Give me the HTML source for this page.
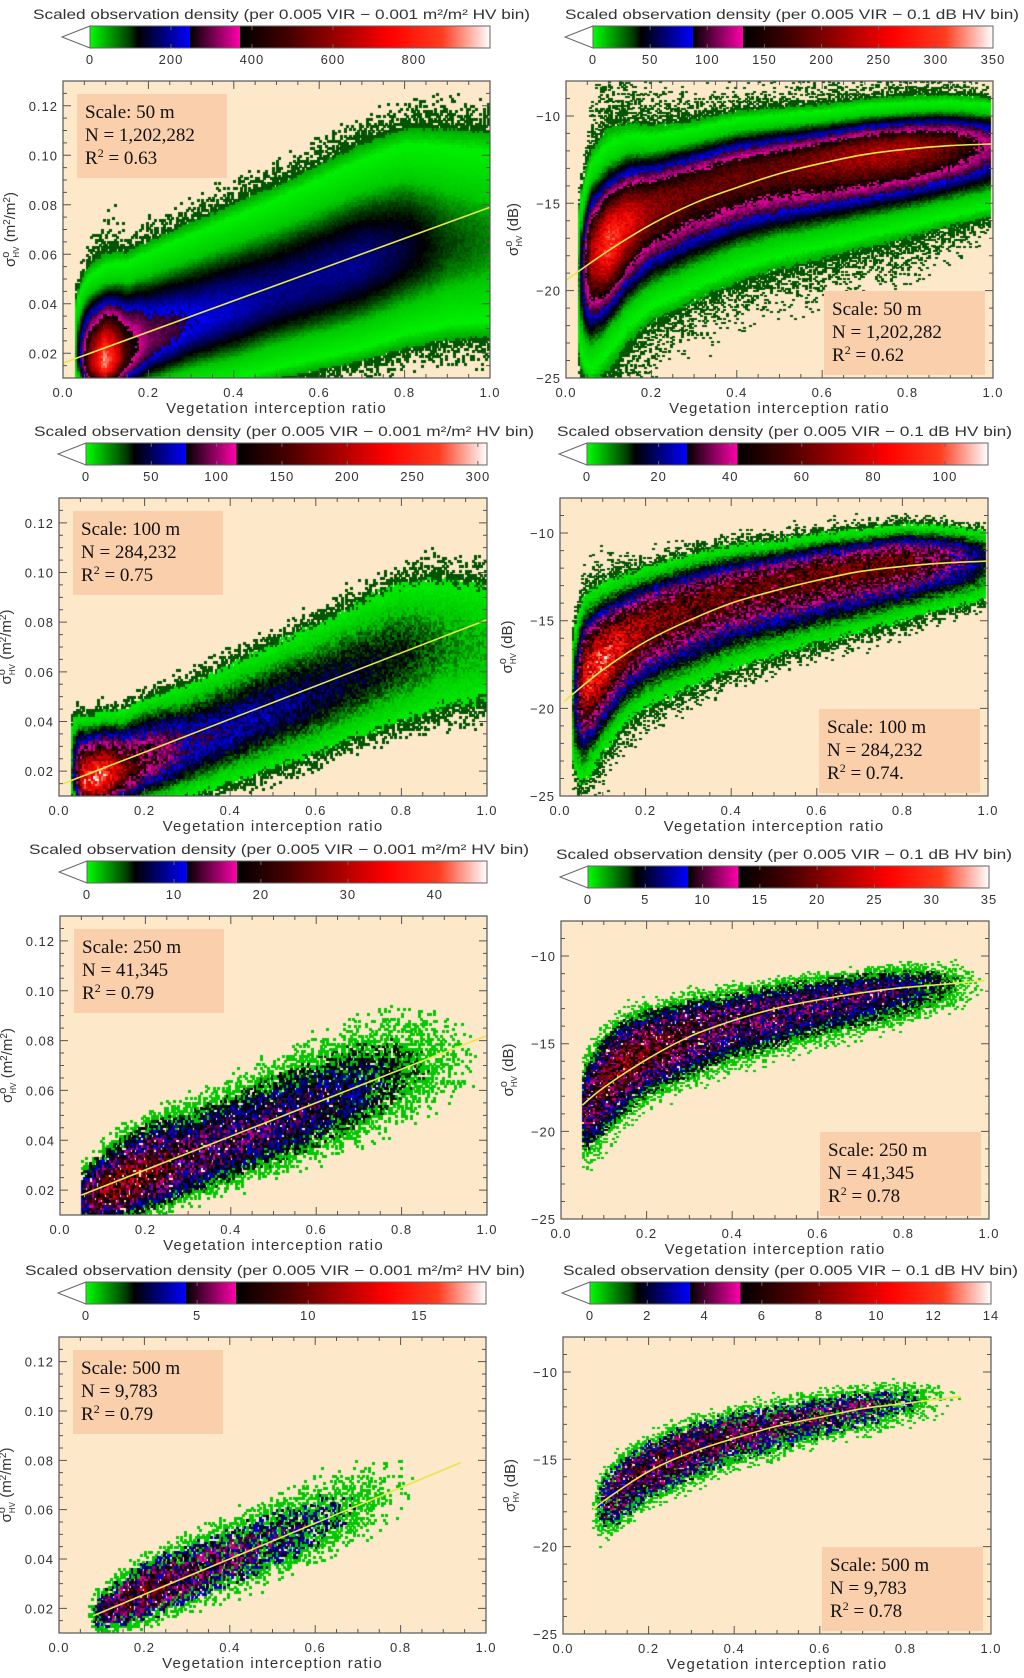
<!DOCTYPE html>
<html><head><meta charset="utf-8">
<style>
html,body{margin:0;padding:0;background:#fff;}
#wrap{position:relative;width:1024px;height:1678px;overflow:hidden;}
canvas{position:absolute;}
svg{position:absolute;left:0;top:0;}
</style></head>
<body>
<div id="wrap">
<svg id="ov" width="1024" height="1678" xmlns="http://www.w3.org/2000/svg"></svg>
</div>
<script>
const knotX = [0.03,0.06,0.1,0.15,0.2,0.3,0.4,0.5,0.6,0.7,0.8,0.9,1.0];
const xTickVals = [0,0.2,0.4,0.6,0.8,1.0];
const xTickLabels = ["0.0","0.2","0.4","0.6","0.8","1.0"];
const linTickVals = [0.02,0.04,0.06,0.08,0.10,0.12];
const linTickLabels = ["0.02","0.04","0.06","0.08","0.10","0.12"];
const dbTickVals = [-25,-20,-15,-10];
const dbTickLabels = ["\u221225","\u221220","\u221215","\u221210"];

const p1Center = [0.020,0.016,0.016,0.020,0.025,0.032,0.038,0.044,0.050,0.056,0.062,0.064,0.065];
const p1SigUp  = [0.012,0.014,0.014,0.015,0.016,0.017,0.018,0.019,0.020,0.021,0.022,0.023,0.023];
const p1SigDn  = [0.006,0.006,0.006,0.008,0.010,0.012,0.014,0.015,0.016,0.017,0.018,0.019,0.020];
const p1Peak   = [0.05,0.5,0.95,0.45,0.3,0.24,0.22,0.2,0.2,0.2,0.17,0.12,0.1];
const p1FitX = [0,1]; const p1FitY = [0.016,0.079];
const p1CbTicks = [0,200,400,600,800]; const p1CbMax = 988;

const p2Center = [-19,-18,-17.3,-16,-15.3,-14.3,-13.5,-13,-12.6,-12.2,-11.9,-11.7,-11.6];
const p2SigUp  = [2,2,2,1.8,1.6,1.4,1.3,1.2,1.1,1.05,1,1,1];
const p2SigDn  = [2.5,2.5,2.2,2.2,2.2,2.2,2.1,2,1.9,1.8,1.7,1.6,1.6];
const p2Peak   = [0.05,0.6,0.85,0.7,0.55,0.5,0.5,0.5,0.55,0.6,0.6,0.5,0.3];
const p2FitX = [0,0.1,0.2,0.3,0.4,0.5,0.6,0.7,0.8,0.9,1.0];
const p2FitY = [-19.4,-17.7,-16.2,-15,-14.1,-13.3,-12.7,-12.2,-11.9,-11.7,-11.6];
const p2CbTicks = [0,50,100,150,200,250,300,350]; const p2CbMax = 350;

const p3Center = [0.020,0.016,0.017,0.020,0.024,0.030,0.037,0.044,0.051,0.059,0.066,0.070,0.070];
const p3SigUp  = [0.012,0.010,0.010,0.010,0.011,0.012,0.013,0.014,0.015,0.016,0.017,0.018,0.018];
const p3SigDn  = [0.006,0.006,0.006,0.007,0.008,0.010,0.011,0.012,0.013,0.014,0.015,0.016,0.016];
const p3Peak   = [0.05,0.8,0.9,0.55,0.4,0.25,0.22,0.2,0.18,0.16,0.14,0.1,0.08];
const p3FitX = [0.01,1]; const p3FitY = [0.015,0.081];
const p3CbTicks = [0,50,100,150,200,250,300]; const p3CbMax = 307;

const p4Center = [-19.5,-18.3,-17.2,-16,-15.2,-14.2,-13.4,-12.9,-12.4,-12,-11.6,-11.4,-11.4];
const p4SigUp  = [2,1.8,1.6,1.4,1.3,1.2,1.1,1.0,0.95,0.9,0.85,0.8,0.8];
const p4SigDn  = [2.3,2.2,2.0,1.9,1.9,1.9,1.8,1.7,1.6,1.5,1.4,1.3,1.3];
const p4Peak   = [0.05,0.75,0.8,0.65,0.55,0.5,0.48,0.48,0.5,0.5,0.5,0.35,0.15];
const p4FitX = [0.01,0.1,0.2,0.3,0.4,0.5,0.6,0.7,0.8,0.9,1.0];
const p4FitY = [-19.6,-17.8,-16.2,-15,-14,-13.3,-12.7,-12.2,-11.9,-11.7,-11.6];
const p4CbTicks = [0,20,40,60,80,100]; const p4CbMax = 112;

const p5Center = [0.016,0.016,0.018,0.022,0.026,0.032,0.039,0.046,0.053,0.060,0.067,0.070,0.072];
const p5SigUp  = [0.008,0.008,0.009,0.010,0.011,0.012,0.013,0.014,0.015,0.016,0.017,0.017,0.017];
const p5SigDn  = [0.005,0.005,0.006,0.007,0.008,0.009,0.010,0.011,0.012,0.013,0.014,0.015,0.015];
const p5Peak   = [0,0.3,0.5,0.55,0.5,0.33,0.28,0.25,0.22,0.18,0.12,0.07,0.02];
const p5FitX = [0.05,1]; const p5FitY = [0.018,0.082];
const p5CbTicks = [0,10,20,30,40]; const p5CbMax = 46;

const p6Center = [-19,-18.5,-17.2,-16,-15.3,-14.4,-13.7,-13.1,-12.6,-12.2,-11.8,-11.5,-11.4];
const p6SigUp  = [1.5,1.5,1.4,1.3,1.2,1.1,1.0,0.9,0.85,0.8,0.75,0.75,0.75];
const p6SigDn  = [1.8,1.8,1.7,1.6,1.5,1.5,1.4,1.4,1.3,1.3,1.2,1.2,1.2];
const p6Peak   = [0,0.3,0.45,0.5,0.45,0.38,0.32,0.3,0.28,0.26,0.22,0.12,0.02];
const p6FitX = [0.05,0.1,0.2,0.3,0.4,0.5,0.6,0.7,0.8,0.9,0.99];
const p6FitY = [-18.5,-17.5,-15.9,-14.6,-13.7,-13,-12.5,-12.1,-11.8,-11.6,-11.4];
const p6CbTicks = [0,5,10,15,20,25,30,35]; const p6CbMax = 35;

const p7Center = [0.016,0.016,0.018,0.022,0.026,0.033,0.040,0.047,0.054,0.062,0.068,0.070,0.070];
const p7SigUp  = [0.006,0.006,0.006,0.007,0.008,0.009,0.010,0.011,0.012,0.013,0.014,0.014,0.014];
const p7SigDn  = [0.005,0.005,0.005,0.006,0.007,0.008,0.009,0.010,0.011,0.012,0.013,0.013,0.013];
const p7Peak   = [0,0,0.3,0.4,0.45,0.33,0.27,0.22,0.18,0.12,0.06,0.02,0];
const p7FitX = [0.08,0.94]; const p7FitY = [0.017,0.079];
const p7CbTicks = [0,5,10,15]; const p7CbMax = 18;

const p8Center = [-18,-18,-17.4,-16.3,-15.5,-14.4,-13.6,-13,-12.5,-12,-11.6,-11.4,-11.3];
const p8SigUp  = [1.3,1.3,1.2,1.1,1.0,0.95,0.9,0.85,0.8,0.75,0.7,0.7,0.7];
const p8SigDn  = [1.5,1.5,1.4,1.3,1.2,1.2,1.1,1.1,1.0,1.0,1.0,1.0,1.0];
const p8Peak   = [0,0,0.25,0.38,0.4,0.37,0.33,0.3,0.27,0.24,0.17,0.06,0];
const p8FitX = [0.07,0.1,0.2,0.3,0.4,0.5,0.6,0.7,0.8,0.9,0.93];
const p8FitY = [-17.9,-17.3,-15.7,-14.6,-13.8,-13.1,-12.6,-12.1,-11.8,-11.5,-11.4];
const p8CbTicks = [0,2,4,6,8,10,12,14]; const p8CbMax = 14;

const annScale = ["Scale: 50 m","Scale: 50 m","Scale: 100 m","Scale: 100 m","Scale: 250 m","Scale: 250 m","Scale: 500 m","Scale: 500 m"];
const annN = ["N = 1,202,282","N = 1,202,282","N = 284,232","N = 284,232","N = 41,345","N = 41,345","N = 9,783","N = 9,783"];
const annR = [" = 0.63"," = 0.62"," = 0.75"," = 0.74."," = 0.79"," = 0.78"," = 0.79"," = 0.78"];

const panels = [
 {box:[63,81,490,378], db:false, c:p1Center,su:p1SigUp,sd:p1SigDn,pk:p1Peak,fx:p1FitX,fy:p1FitY,cbt:p1CbTicks,cbm:p1CbMax,noise:0.05,tail:0.02,floor:0.005,sparse:false,xmin:0.03,xmax:1.0,tl:33,tw:497},
 {box:[566,81,993,378], db:true, c:p2Center,su:p2SigUp,sd:p2SigDn,pk:p2Peak,fx:p2FitX,fy:p2FitY,cbt:p2CbTicks,cbm:p2CbMax,noise:0.1,tail:0.03,floor:0.005,sparse:false,xmin:0.03,xmax:0.995,tl:565,tw:454},
 {box:[59,498,487,796], db:false, c:p3Center,su:p3SigUp,sd:p3SigDn,pk:p3Peak,fx:p3FitX,fy:p3FitY,cbt:p3CbTicks,cbm:p3CbMax,noise:0.2,tail:0.015,floor:0.01,sparse:false,xmin:0.03,xmax:1.0,tl:34,tw:500},
 {box:[560,498,988,796], db:true, c:p4Center,su:p4SigUp,sd:p4SigDn,pk:p4Peak,fx:p4FitX,fy:p4FitY,cbt:p4CbTicks,cbm:p4CbMax,noise:0.25,tail:0.03,floor:0.01,sparse:false,xmin:0.03,xmax:0.995,tl:557,tw:455},
 {box:[60,916,487,1215], db:false, c:p5Center,su:p5SigUp,sd:p5SigDn,pk:p5Peak,fx:p5FitX,fy:p5FitY,cbt:p5CbTicks,cbm:p5CbMax,noise:0.4,tail:0.03,floor:0.035,sparse:true,xmin:0.05,xmax:0.98,tl:29,tw:500},
 {box:[561,921,989,1219], db:true, c:p6Center,su:p6SigUp,sd:p6SigDn,pk:p6Peak,fx:p6FitX,fy:p6FitY,cbt:p6CbTicks,cbm:p6CbMax,noise:0.4,tail:0.04,floor:0.035,sparse:true,xmin:0.05,xmax:0.99,tl:556,tw:456},
 {box:[59,1337,486,1633], db:false, c:p7Center,su:p7SigUp,sd:p7SigDn,pk:p7Peak,fx:p7FitX,fy:p7FitY,cbt:p7CbTicks,cbm:p7CbMax,noise:0.5,tail:0.02,floor:0.05,sparse:true,xmin:0.07,xmax:0.93,tl:25,tw:500},
 {box:[563,1337,991,1634], db:true, c:p8Center,su:p8SigUp,sd:p8SigDn,pk:p8Peak,fx:p8FitX,fy:p8FitY,cbt:p8CbTicks,cbm:p8CbMax,noise:0.5,tail:0.03,floor:0.05,sparse:true,xmin:0.07,xmax:0.94,tl:563,tw:455}
];

const NS="http://www.w3.org/2000/svg";
const ov=document.getElementById('ov');
const wrap=document.getElementById('wrap');
function mk(tag,attrs,parent){const e=document.createElementNS(NS,tag);for(const k in attrs)e.setAttribute(k,attrs[k]);(parent||ov).appendChild(e);return e;}
function interp(xs,ys,x){if(x<=xs[0])return ys[0];if(x>=xs[xs.length-1])return ys[ys.length-1];for(let i=1;i<xs.length;i++){if(x<=xs[i]){const t=(x-xs[i-1])/(xs[i]-xs[i-1]);return ys[i-1]+t*(ys[i]-ys[i-1]);}}}
function hash(a,b,c){let h=(a*374761393+b*668265263+c*2147483647)|0;h=(h^(h>>>13))*1274126177|0;h=h^(h>>>16);return ((h>>>0)%100000)/100000;}
const cmapStops=[[0.014,0,150,0],[0.03,0,240,0],[0.08,0,200,0],[0.12,0,70,0],[0.15,0,0,0],[0.25,0,0,255],[0.2501,30,0,40],[0.375,240,0,160],[0.3751,0,0,0],[0.5,90,0,0],[0.7,230,0,0],[0.85,255,40,20],[0.95,255,150,120],[1,255,255,255]];
function cmap(v){if(v>=1)return [255,255,255];for(let i=1;i<cmapStops.length;i++){const a=cmapStops[i-1],b=cmapStops[i];if(v<=b[0]){const t=Math.max(0,(v-a[0])/(b[0]-a[0]));return [a[1]+t*(b[1]-a[1]),a[2]+t*(b[2]-a[2]),a[3]+t*(b[3]-a[3])];}}return [255,255,255];}
function smoothPath(pts){
  if(pts.length<3){return pts.map((p,k)=>(k?'L':'M')+p[0].toFixed(1)+','+p[1].toFixed(1)).join('');}
  let d='M'+pts[0][0].toFixed(1)+','+pts[0][1].toFixed(1);
  for(let i=0;i<pts.length-1;i++){
    const p0=pts[Math.max(0,i-1)],p1=pts[i],p2=pts[i+1],p3=pts[Math.min(pts.length-1,i+2)];
    const c1=[p1[0]+(p2[0]-p0[0])/6,p1[1]+(p2[1]-p0[1])/6],c2=[p2[0]-(p3[0]-p1[0])/6,p2[1]-(p3[1]-p1[1])/6];
    d+=`C${c1[0].toFixed(1)},${c1[1].toFixed(1)} ${c2[0].toFixed(1)},${c2[1].toFixed(1)} ${p2[0].toFixed(1)},${p2[1].toFixed(1)}`;
  }
  return d;
}

panels.forEach((P,pi)=>{
  const [L,T,R,B]=P.box; const W=R-L,H=B-T;
  const y0=P.db?-25:0.01, y1=P.db?-8:0.13;
  const xs=v=>L+v*W; const ys=v=>B-(v-y0)/(y1-y0)*H;
  const g=mk('g',{});
  
  
  const cv=document.createElement('canvas');
  cv.width=W;cv.height=H;cv.style.left=L+'px';cv.style.top=T+'px';
  
  
  wrap.insertBefore(cv,ov);
  const ctx=cv.getContext('2d');
  ctx.fillStyle='#fde8c9';ctx.fillRect(0,0,W,H);
  const bx=0.005, by=P.db?0.1:0.001;
  const nx=Math.round(1/bx), ny=Math.round((y1-y0)/by);
  const cw=W/nx, ch=H/ny;
  const f0=P.floor, f1=P.floor*3.5;
  for(let i=0;i<nx;i++){
    const x=(i+0.5)*bx;
    if(x<P.xmin||x>P.xmax)continue;
    const c=interp(knotX,P.c,x),su=interp(knotX,P.su,x),sd=interp(knotX,P.sd,x),pk=interp(knotX,P.pk,x);
    if(pk<=0)continue;
    for(let j=0;j<ny;j++){
      const y=y0+(j+0.5)*by;
      const d=y-c; const z=d>=0?d/su:d/sd;
      let v=pk*(Math.exp(-0.5*z*z)+P.tail*Math.exp(-0.5*(z/3)*(z/3)));
      const h=hash(i,j,pi+1);
      v=v*(1+P.noise*(h-0.5)*2);
      if(v<f0)continue;
      let col;
      if(v<f1){ if(hash(j,i,pi+11)>(v-f0)/(f1-f0))continue; col=P.sparse?[0,200,0]:[0,85,0]; }
      else {
        if(P.sparse && hash(i+7,j+3,pi)<0.06)continue;
        col=cmap(P.sparse?Math.max(v,0.03):v);
        if(P.sparse && v>0.15 && hash(i+3,j+9,pi)<0.15) col=[0,0,0];
      }
      ctx.fillStyle='rgb('+(col[0]|0)+','+(col[1]|0)+','+(col[2]|0)+')';
      ctx.fillRect(Math.floor(i*cw),Math.floor(H-(j+1)*ch),Math.ceil(cw),Math.ceil(ch));
    }
  }
  const pts=P.fx.map((fx,k)=>[xs(fx),ys(P.fy[k])]);
  const fl=mk('path',{d:smoothPath(pts),fill:'none',stroke:'#e6e84a','stroke-width':1.6},g);
  
  
  const fr=mk('rect',{x:L,y:T,width:W,height:H,fill:'none',stroke:'#555','stroke-width':1.2},g);
  
  
  let tp='';
  for(let k=0;k<=20;k++){const v=k*0.05;const X=xs(v);const len=(k%4===0)?8:4;tp+=`M${X},${B}v${-len}M${X},${T}v${len}`;}
  const yStep=P.db?1:0.005;
  for(let v=y0;v<=y1+1e-9;v+=yStep){const Y=ys(v);const maj=P.db?(Math.abs(Math.round(v)%5)===0):(Math.abs(Math.round(v*1000)%20)===0);const len=maj?8:4;tp+=`M${L},${Y}h${len}M${R},${Y}h${-len}`;}
  const tk=mk('path',{d:tp,stroke:'#555','stroke-width':1,fill:'none'},g);
  
  
  xTickVals.forEach((v,k)=>{const t=mk('text',{x:xs(v),y:B+19,'text-anchor':'middle','font-size':13,'font-family':'Liberation Sans, sans-serif',fill:'#333','letter-spacing':1},g);t.textContent=xTickLabels[k];
    
    });
  const yv=P.db?dbTickVals:linTickVals, yl=P.db?dbTickLabels:linTickLabels;
  yv.forEach((v,k)=>{const t=mk('text',{x:L-5,y:ys(v)+5,'text-anchor':'end','font-size':13,'font-family':'Liberation Sans, sans-serif',fill:'#333','letter-spacing':1},g);t.textContent=yl[k];
    
    });
  const xt=mk('text',{x:(L+R)/2,y:B+35,'text-anchor':'middle','font-size':15,'font-family':'Liberation Sans, sans-serif',fill:'#333','letter-spacing':1.2},g);
  xt.textContent='Vegetation interception ratio';
  
  
  const ytx=L-48, yty=(T+B)/2;
  const yt=mk('text',{x:ytx,y:yty,'text-anchor':'middle','font-size':15,'font-family':'Liberation Sans, DejaVu Sans, sans-serif',fill:'#333',transform:`rotate(-90 ${ytx} ${yty})`},g);
  
  
  yt.innerHTML='σ<tspan dy="-6" font-size="11">o</tspan><tspan dy="10" dx="-6" font-size="8">HV</tspan><tspan dy="-4"> '+(P.db?'(dB)':'(m<tspan dy="-5" font-size="10">2</tspan><tspan dy="5">/m</tspan><tspan dy="-5" font-size="10">2</tspan><tspan dy="5">)</tspan>')+'</tspan>';
  const left=(pi%2===0);
  const aw=left?150:161, ah=84;
  const ax=left?L+14:R-8-aw, ay=left?T+13:B-3-ah;
  const ag=mk('g',{},g);
  
  
  mk('rect',{x:ax,y:ay,width:aw,height:ah,fill:'#f9cfac'},ag);
  const lines=[annScale[pi],annN[pi],null];
  for(let k=0;k<3;k++){
    const t=mk('text',{x:ax+8,y:ay+24+k*23,'font-size':19,'font-family':'Liberation Serif, serif',fill:'#111'},ag);
    if(k<2)t.textContent=lines[k]; else t.innerHTML='R<tspan dy="-7" font-size="12">2</tspan><tspan dy="7">'+annR[pi]+'</tspan>';
  }
  const cbL=L+27, cbR=R, cbT=T-55, cbH=22;
  const cg=mk('g',{},g);
  
  
  const gid='cbg'+pi;
  const defs=mk('defs',{},cg);
  const lg=mk('linearGradient',{id:gid,x1:0,x2:1,y1:0,y2:0},defs);
  [[0,'#00ff00'],[0.1,'#003c00'],[0.12,'#000000'],[0.25,'#0000ff'],[0.25,'#000000'],[0.375,'#ff00aa'],[0.375,'#000000'],[0.5,'#460000'],[0.75,'#ff0000'],[0.88,'#ff3c1e'],[1,'#ffffff']].forEach(s=>mk('stop',{offset:s[0],'stop-color':s[1]},lg));
  mk('polygon',{points:`${cbL},${cbT} ${cbL-28},${cbT+cbH/2} ${cbL},${cbT+cbH}`,fill:'#fff',stroke:'#666','stroke-width':1},cg);
  mk('rect',{x:cbL,y:cbT,width:cbR-cbL,height:cbH,fill:`url(#${gid})`,stroke:'#666','stroke-width':1},cg);
  P.cbt.forEach(v=>{const X=cbL+v/P.cbm*(cbR-cbL);
    mk('path',{d:`M${X},${cbT}v4M${X},${cbT+cbH}v-4`,stroke:'#666','stroke-width':1},cg);
    const t=mk('text',{x:X,y:cbT+cbH+16,'text-anchor':'middle','font-size':13,'font-family':'Liberation Sans, sans-serif',fill:'#333','letter-spacing':1},cg);
    t.textContent=String(v);
    
    });
  const ct=mk('text',{x:P.tl,y:cbT-7,'font-size':14,'font-family':'Liberation Sans, DejaVu Sans, sans-serif',fill:'#333',textLength:P.tw,lengthAdjust:'spacingAndGlyphs'},cg);
  ct.textContent=P.db?'Scaled observation density (per 0.005 VIR \u2212 0.1 dB HV bin)':'Scaled observation density (per 0.005 VIR \u2212 0.001 m\u00b2/m\u00b2 HV bin)';
  
  
});
</script>
</body></html>
